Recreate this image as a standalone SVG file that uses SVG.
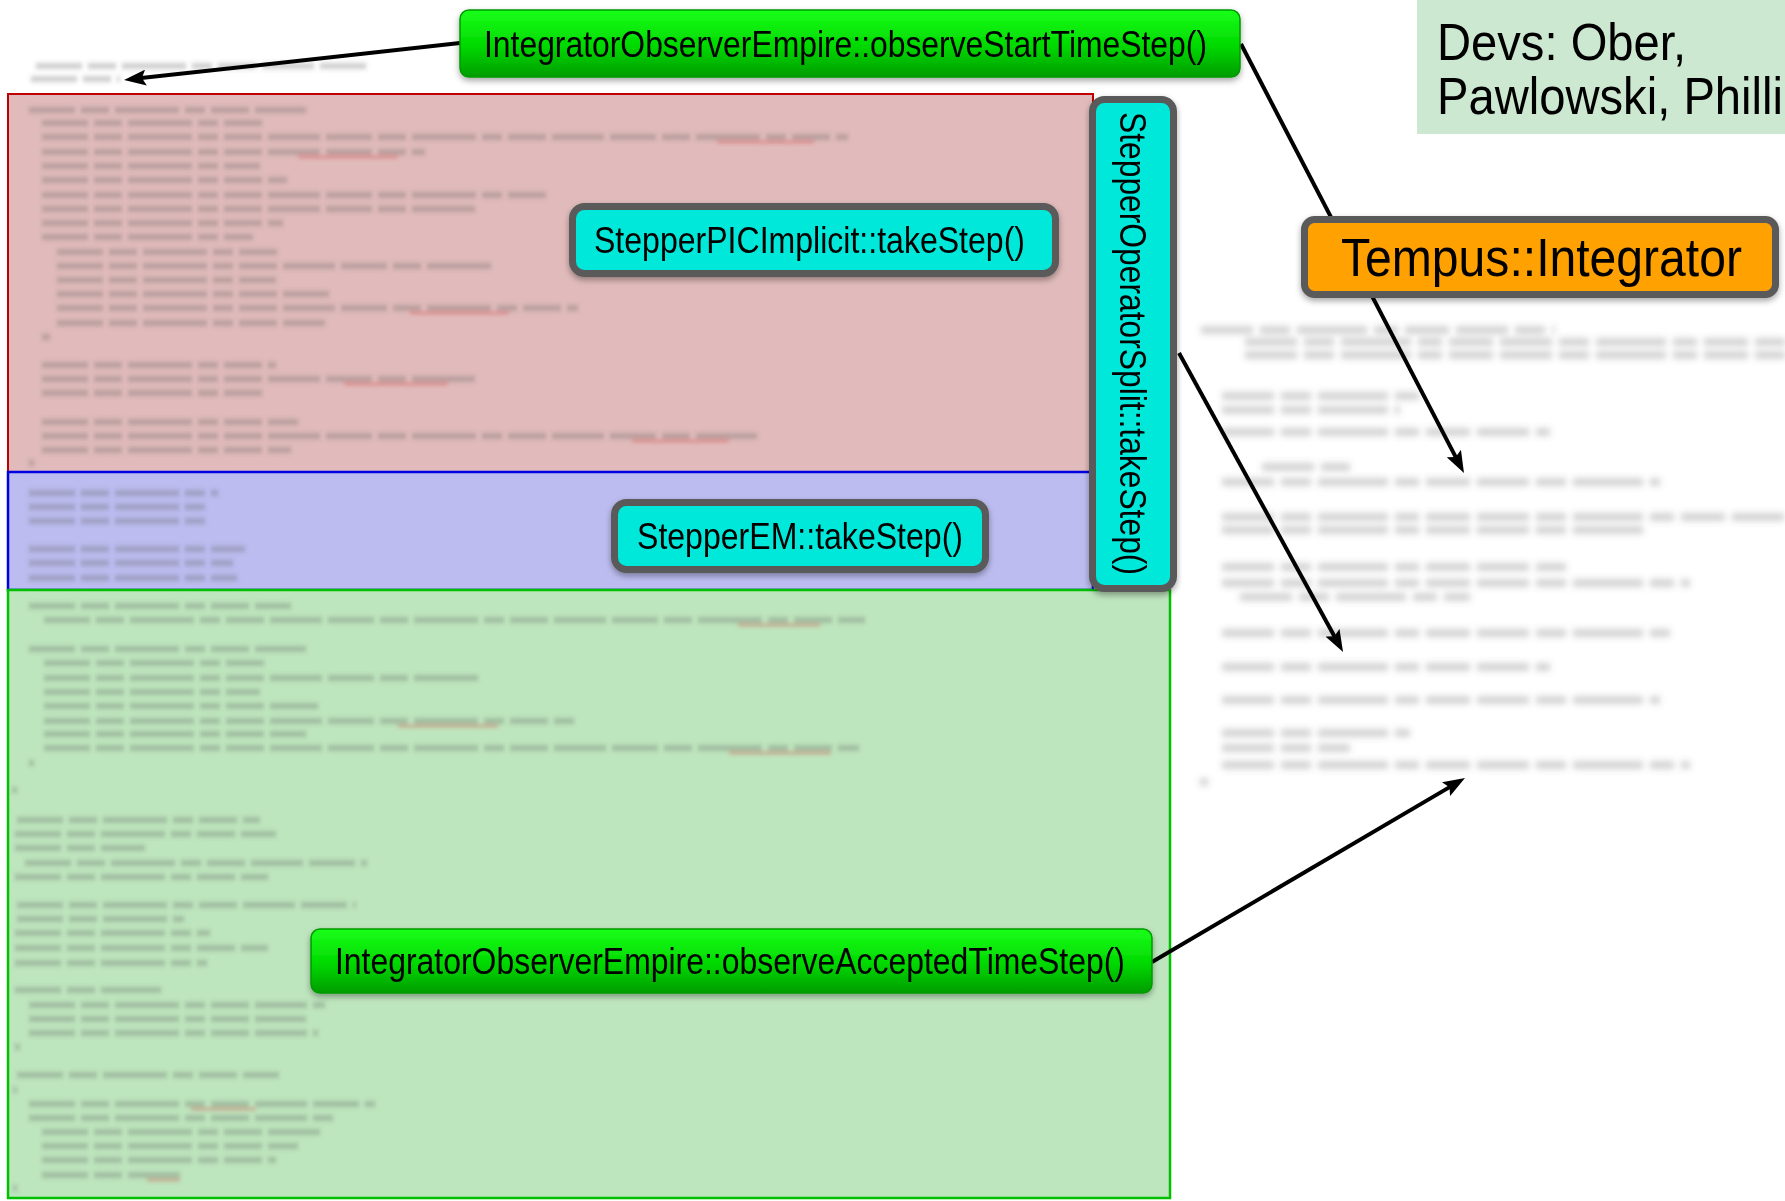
<svg xmlns="http://www.w3.org/2000/svg" width="1785" height="1201" viewBox="0 0 1785 1201">
  <style>
    .node-text { font-family: "Liberation Sans", Arial, Helvetica, sans-serif; fill: #000; }
    .code { fill: none; stroke: #555; stroke-width: 6.5; stroke-opacity: 0.27; stroke-dasharray: 46 6 28 6 64 6 20 6 38 6 52 6; }
    .code-far { fill: none; stroke: #555; stroke-width: 8; stroke-opacity: 0.26; stroke-dasharray: 52 7 30 7 70 7 24 7 44 7; }
    .uline { fill: none; stroke: #d04040; stroke-width: 2; stroke-opacity: 0.55; }
    .conn { fill: none; stroke: #000; stroke-width: 4; marker-end: url(#arrow); }
    .cyan { fill: #00e8da; stroke: #5a5a5a; stroke-width: 7; }
    .orange { fill: #ffa100; stroke: #5a5a5a; stroke-width: 7; }
    .green { fill: url(#greenGrad); stroke: #009a00; stroke-width: 1.5; }
  </style>
  <defs>
    <linearGradient id="greenGrad" x1="0" y1="0" x2="0" y2="1">
      <stop offset="0" stop-color="#19ff19"/>
      <stop offset="0.55" stop-color="#00d800"/>
      <stop offset="1" stop-color="#009c00"/>
    </linearGradient>
    <filter id="shadow" x="-10%" y="-20%" width="120%" height="150%">
      <feDropShadow dx="0" dy="3" stdDeviation="3" flood-color="#000" flood-opacity="0.35"/>
    </filter>
    <filter id="blurNear" x="-5%" y="-5%" width="110%" height="110%">
      <feGaussianBlur stdDeviation="1.9"/>
    </filter>
    <filter id="blurFar" x="-5%" y="-5%" width="110%" height="110%">
      <feGaussianBlur stdDeviation="3.2"/>
    </filter>
    <marker id="arrow" viewBox="0 0 22 16" refX="14" refY="8" markerWidth="22" markerHeight="16" markerUnits="userSpaceOnUse" orient="auto">
      <path d="M0,0 L22,8 L0,16 L4,8 z" fill="#000"/>
    </marker>
  </defs>

  <rect width="1785" height="1201" fill="#fff"/>

  <!-- credits panel -->
  <g id="credits">
    <rect x="1417" y="0" width="368" height="134" fill="#cde8d0"/>
    <text class="node-text" x="1437" y="60" font-size="52" textLength="249" lengthAdjust="spacingAndGlyphs">Devs: Ober,</text>
    <text class="node-text" x="1437" y="114" font-size="52" textLength="346" lengthAdjust="spacingAndGlyphs">Pawlowski, Philli</text>
  </g>

  <!-- code regions -->
  <g id="regions">
    <rect x="8" y="94" width="1085" height="378" fill="#e1bbbb" stroke="#c00000" stroke-width="2"/>
    <rect x="8" y="472" width="1085" height="118" fill="#bcbcf0" stroke="#0000e0" stroke-width="2.5"/>
    <rect x="8" y="590" width="1162" height="608" fill="#bee6be" stroke="#00c000" stroke-width="2.5"/>
  </g>

  <!-- blurred source listing, left column -->
  <g id="code-left" filter="url(#blurNear)">
    <path class="code" d="M36,66H370 M31,79H120"/>
    <path class="code" d="M29,110H306 M42,123H268 M42,137H848 M42,152H425 M42,166H260 M42,180H287 M42,195H547 M42,209H475 M42,223H283 M42,237H253 M57,252H279 M57,266H494 M57,280H276 M57,294H329 M57,308H578 M57,323H325 M42,337H50 M42,365H276 M42,379H475 M42,393H268 M42,422H298 M42,436H757 M42,450H291 M29,463H34"/>
    <path class="uline" d="M717,142H814 M298,157H398 M410,313H509 M344,384H448 M632,441H729"/>
    <path class="code" d="M29,493H218 M29,507H210 M29,521H210 M29,549H245 M29,563H233 M29,578H237"/>
    <path class="code" d="M29,606H291 M44,620H865 M29,649H306 M44,663H268 M44,678H480 M44,692H260 M44,706H318 M44,721H574 M44,734H306 M44,748H859 M29,763H34 M12,790H17"/>
    <path class="uline" d="M738,625H820 M398,726H498 M729,753H831"/>
    <path class="code" d="M17,820H260 M15,834H276 M15,848H145 M25,863H367 M15,877H268 M17,905H356 M17,919H184 M15,933H210 M15,948H268 M15,963H207 M15,990H161 M29,1005H325 M29,1019H306 M29,1033H318 M15,1047H20 M17,1075H279 M13,1090H17 M29,1104H375 M29,1118H333 M42,1132H321 M42,1146H298 M42,1160H276 M42,1175H180 M13,1188H17"/>
    <path class="uline" stroke="#d08030" d="M191,1109H256 M147,1180H180"/>
  </g>

  <!-- blurred source listing, right column -->
  <g id="code-right" filter="url(#blurFar)">
    <path class="code-far" d="M1201,330H1555 M1245,342H1785 M1245,355H1785 M1222,396H1420 M1222,410H1400 M1222,432H1550 M1262,467H1350 M1222,482H1660 M1222,517H1785 M1222,530H1650 M1222,567H1570 M1222,583H1690 M1240,597H1470 M1222,633H1670 M1222,667H1550 M1222,700H1660 M1222,733H1410 M1222,748H1350 M1222,765H1690 M1200,782H1208"/>
  </g>

  <!-- call-flow connectors -->
  <g id="connectors">
    <path class="conn" d="M460,43L132,79.1"/>
    <path class="conn" d="M1241,44L1460.3,465.9"/>
    <path class="conn" d="M1179,353L1339.2,645"/>
    <path class="conn" d="M1152,962L1458.1,782.1"/>
  </g>

  <g id="observe-start" filter="url(#shadow)">
    <rect class="green" x="460" y="10" width="780" height="67" rx="9"/>
    <text class="node-text" x="484" y="57" font-size="37.5" textLength="723" lengthAdjust="spacingAndGlyphs">IntegratorObserverEmpire::observeStartTimeStep()</text>
  </g>

  <g id="stepper-pic-implicit" filter="url(#shadow)">
    <rect class="cyan" x="572.5" y="206.5" width="483" height="67" rx="12"/>
    <text class="node-text" x="594" y="253" font-size="37.5" textLength="431" lengthAdjust="spacingAndGlyphs">StepperPICImplicit::takeStep()</text>
  </g>

  <g id="stepper-em" filter="url(#shadow)">
    <rect class="cyan" x="614.5" y="502.5" width="371" height="67" rx="12"/>
    <text class="node-text" x="637" y="549" font-size="37.5" textLength="326" lengthAdjust="spacingAndGlyphs">StepperEM::takeStep()</text>
  </g>

  <g id="stepper-operator-split" filter="url(#shadow)">
    <rect class="cyan" x="1092.5" y="99.5" width="81" height="489" rx="12"/>
    <text class="node-text" transform="translate(1120,112) rotate(90)" x="0" y="0" font-size="37.5" textLength="463" lengthAdjust="spacingAndGlyphs">StepperOperatorSplit::takeStep()</text>
  </g>

  <g id="tempus-integrator" filter="url(#shadow)">
    <rect class="orange" x="1304.5" y="219.5" width="471" height="75" rx="10"/>
    <text class="node-text" x="1341" y="276" font-size="54" textLength="401" lengthAdjust="spacingAndGlyphs">Tempus::Integrator</text>
  </g>

  <g id="observe-accepted" filter="url(#shadow)">
    <rect class="green" x="311" y="929" width="841" height="64" rx="9"/>
    <text class="node-text" x="335" y="974" font-size="37.5" textLength="790" lengthAdjust="spacingAndGlyphs">IntegratorObserverEmpire::observeAcceptedTimeStep()</text>
  </g>
</svg>
